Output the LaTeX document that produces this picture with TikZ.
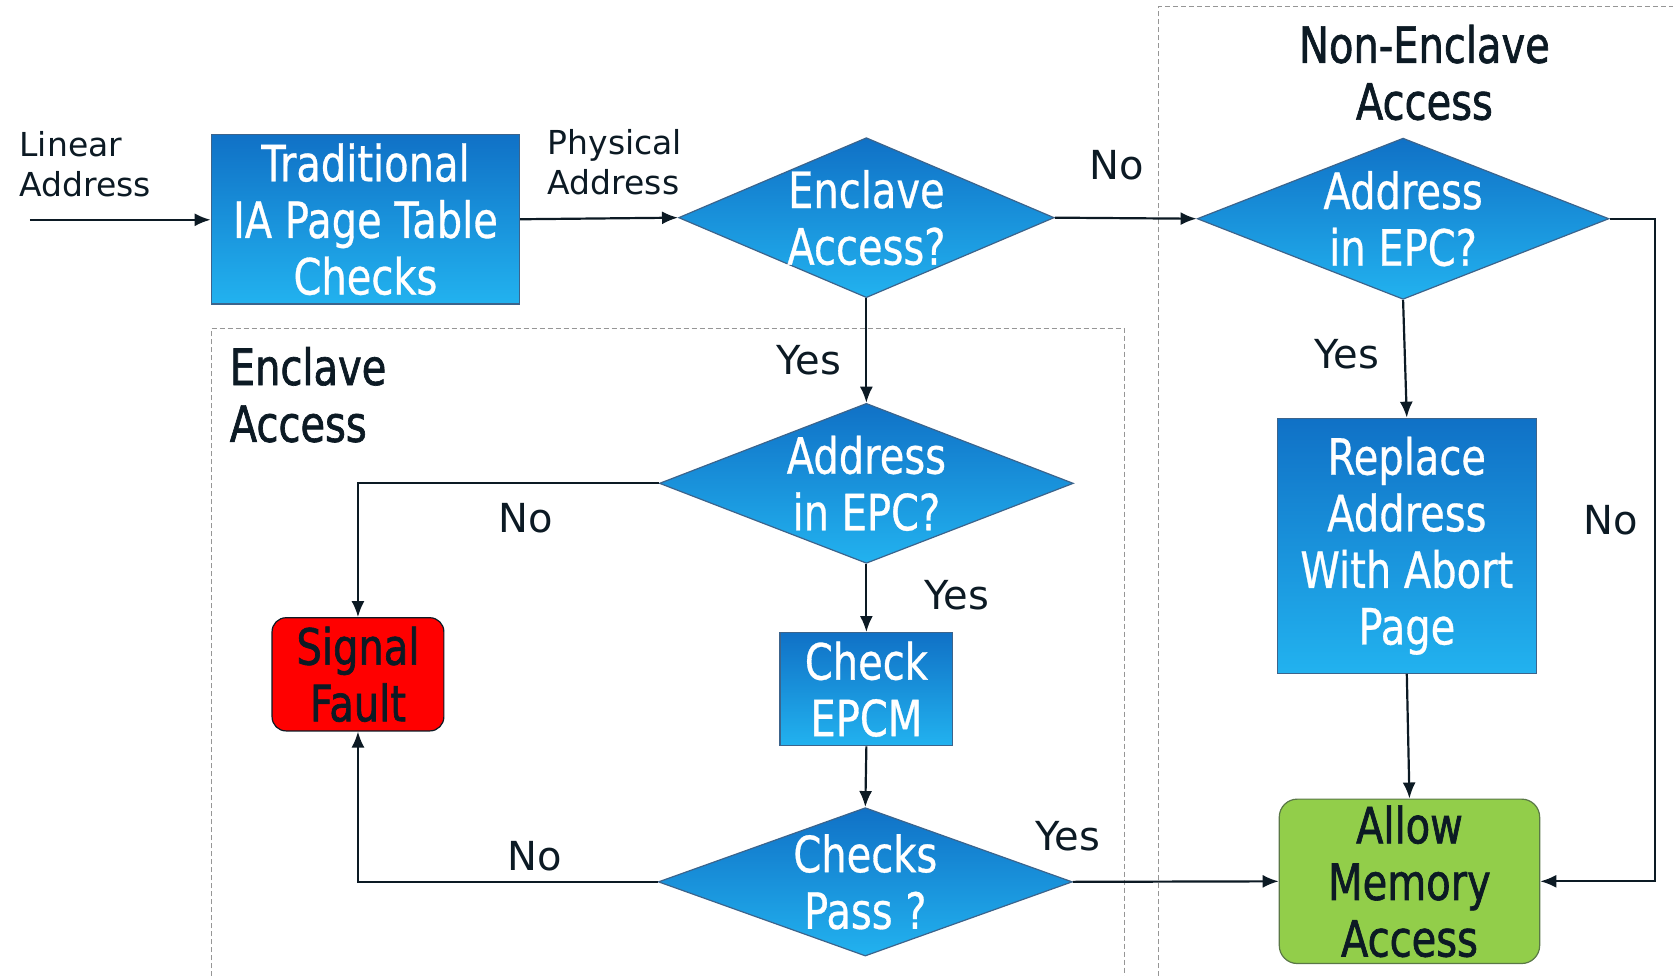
\documentclass[tikz,border=0pt]{standalone}
\usepackage{fontspec}
\setmainfont{DejaVu Sans}
\newfontfamily\cond{DejaVu Sans}[FakeStretch=0.8,FakeBold=0.6]
\newfontfamily\condb{DejaVu Sans}[FakeStretch=0.8,FakeBold=1.3]
\usetikzlibrary{shapes.geometric,arrows.meta}
\definecolor{btop}{RGB}{16,113,198}
\definecolor{bbot}{RGB}{34,178,239}
\definecolor{boxedge}{RGB}{60,100,140}
\definecolor{ink}{RGB}{12,26,36}
\definecolor{okgreen}{RGB}{146,206,74}
\definecolor{okedge}{RGB}{90,120,70}
\definecolor{frame}{RGB}{150,150,150}
\tikzset{
  bluebox/.style={rectangle, draw=boxedge, line width=0.6pt, top color=btop, bottom color=bbot,
    text=white, font=\cond\fontsize{25}{28.3}\selectfont, align=center, inner sep=0pt},
  bluedia/.style={diamond, draw=boxedge, line width=0.6pt, top color=btop, bottom color=bbot, inner sep=0pt},
  dtext/.style={text=white, font=\cond\fontsize{25}{28.3}\selectfont, align=center, inner sep=0pt},
  endbox/.style={rectangle, rounded corners=9pt, line width=0.6pt, text=ink,
    font=\condb\fontsize{25}{28.3}\selectfont, align=center, inner sep=0pt},
  lab/.style={text=ink, font=\fontsize{20}{24}\selectfont, inner sep=0pt},
  small/.style={text=ink, font=\fontsize{16.5}{19.7}\selectfont, align=left, inner sep=0pt},
  title/.style={text=ink, font=\condb\fontsize{25}{28.4}\selectfont, inner sep=0pt},
  arr/.style={draw=ink, line width=1.1pt, -{Latex[length=8pt,width=6.5pt]}},
  frm/.style={draw=frame, line width=0.5pt, dash pattern=on 2.5pt off 1.5pt}
}
\begin{document}
\begin{tikzpicture}[x=0.5335pt,y=-0.5335pt]
\useasboundingbox (0,0) rectangle (1568,914);
% dashed frames
\draw[frm] (198,930) -- (198,308) -- (1054,308) -- (1054,930);
\draw[frm] (1086,930) -- (1086,6) -- (1580,6);
% titles
\node[title, align=center] (ttl1) at (1335,68) {Non-Enclave\\Access};
\node[title, align=left, anchor=west] (ttl2) at (215,370) {Enclave\\Access};
% nodes
\node[bluebox, minimum width=154.2pt, minimum height=84.8pt] (trad) at (342.5,205.5) {Traditional\\IA Page Table\\Checks};
\node[bluedia, minimum width=187.8pt, minimum height=80pt,
  label={[dtext]center:{Enclave\\Access?}}] (enc) at (812,204) {};
\node[bluedia, minimum width=205.9pt, minimum height=80.6pt,
  label={[dtext]center:{Address\\in EPC?}}] (nepc) at (1315,205) {};
\node[bluebox, minimum width=129.6pt, minimum height=127.5pt] (repl) at (1318.5,511.5) {Replace\\Address\\With Abort\\Page};
\node[endbox, draw=okedge, fill=okgreen, minimum width=130.2pt, minimum height=82.2pt] (allow) at (1321,826) {Allow\\Memory\\Access};
\node[bluedia, minimum width=207pt, minimum height=80pt,
  label={[dtext]center:{Address\\in EPC?}}] (eepc) at (812,453) {};
\node[endbox, rounded corners=7pt, draw=ink, fill=red, minimum width=85.9pt, minimum height=56.6pt] (fault) at (335.5,632) {Signal\\Fault};
\node[bluebox, minimum width=86.4pt, minimum height=56.6pt] (epcm) at (812,646) {Check\\EPCM};
\node[bluedia, minimum width=207pt, minimum height=74.2pt,
  label={[dtext]center:{Checks\\Pass ?}}] (pass) at (811,826.5) {};
% text labels
\node[small, anchor=west] (lin) at (18,154) {Linear\\Address};
\node[small, anchor=west] (phy) at (513,152) {Physical\\Address};
\node[lab] (l1) at (1047,155) {No};
\node[lab] (l2) at (758,338) {Yes};
\node[lab] (l3) at (1262,332) {Yes};
\node[lab] (l4) at (1510,488) {No};
\node[lab] (l5) at (493,486) {No};
\node[lab] (l6) at (897,558) {Yes};
\node[lab] (l7) at (501,802) {No};
\node[lab] (l8) at (1001,784) {Yes};
% connectors
\coordinate (start) at (28,206);
\coordinate (rc) at (1551,205);
\draw[arr] (start) -- (trad.west |- start);
\draw[arr] (trad.east) -- (enc.west);
\draw[arr] (enc.east) -- (nepc.west);
\draw[arr] (nepc.east) -- (rc) |- (allow.east);
\draw[arr] (nepc.south) -- (repl.north);
\draw[arr] (repl.south) -- (allow.north);
\draw[arr] (enc.south) -- (eepc.north);
\draw[arr] (eepc.west) -| (fault.north);
\draw[arr] (eepc.south) -- (epcm.north);
\draw[arr] (epcm.south) -- (pass.north);
\draw[arr] (pass.west) -| (fault.south);
\draw[arr] (pass.east) -- (allow.west);
\end{tikzpicture}
\end{document}
